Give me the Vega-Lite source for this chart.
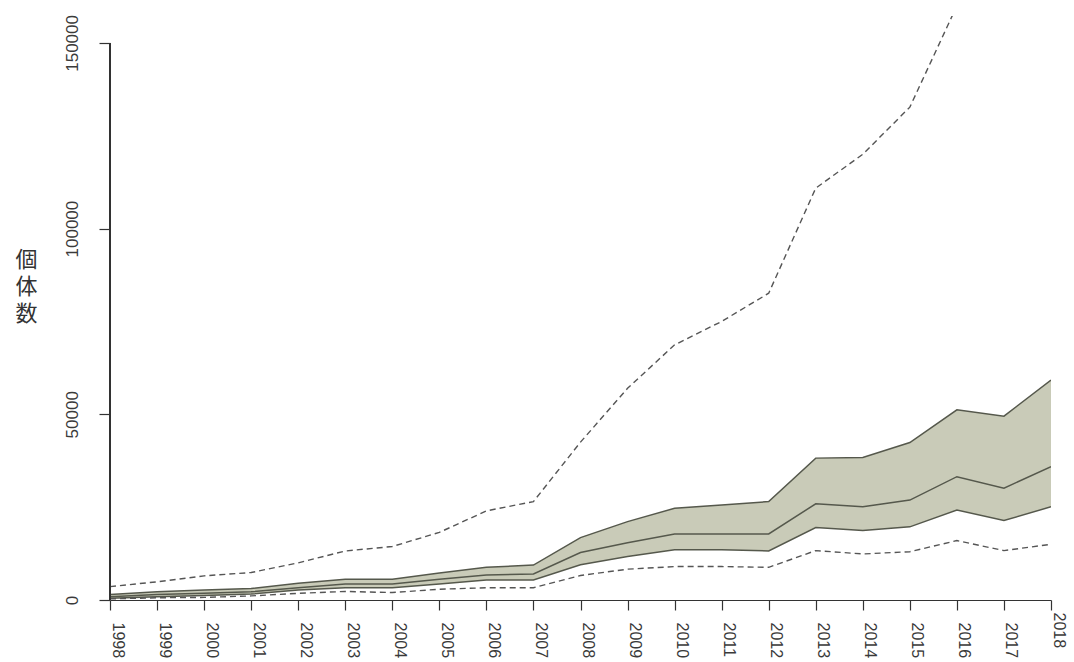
{
  "$schema": "https://vega.github.io/schema/vega-lite/v6.json",
  "width": 941,
  "height": 584,
  "autosize": {"type": "none"},
  "padding": {"left": 110, "top": 16, "right": 23, "bottom": 62},
  "background": "white",
  "config": {
    "view": {"stroke": null},
    "font": "Liberation Sans",
    "axis": {"grid": false, "labelFont": "Liberation Sans", "labelColor": "#3a3a3a", "tickColor": "#333333", "domainColor": "#333333", "tickWidth": 1.2, "domainWidth": 1.2}
  },
  "data": {
    "values": [
      {"year": 1998, "dlo": 300, "lo": 500, "med": 900, "hi": 1500, "dhi": 3600},
      {"year": 1999, "dlo": 600, "lo": 900, "med": 1500, "hi": 2200, "dhi": 4900},
      {"year": 2000, "dlo": 700, "lo": 1200, "med": 1800, "hi": 2700, "dhi": 6500},
      {"year": 2001, "dlo": 1100, "lo": 1600, "med": 2200, "hi": 3100, "dhi": 7400},
      {"year": 2002, "dlo": 1800, "lo": 2700, "med": 3300, "hi": 4500, "dhi": 10000},
      {"year": 2003, "dlo": 2300, "lo": 3300, "med": 4300, "hi": 5600, "dhi": 13200},
      {"year": 2004, "dlo": 2000, "lo": 3300, "med": 4300, "hi": 5600, "dhi": 14400},
      {"year": 2005, "dlo": 2900, "lo": 4300, "med": 5600, "hi": 7300, "dhi": 18200},
      {"year": 2006, "dlo": 3300, "lo": 5400, "med": 6700, "hi": 8800, "dhi": 24000},
      {"year": 2007, "dlo": 3300, "lo": 5400, "med": 7000, "hi": 9400, "dhi": 26500},
      {"year": 2008, "dlo": 6600, "lo": 9500, "med": 12800, "hi": 16800, "dhi": 42500},
      {"year": 2009, "dlo": 8300, "lo": 11700, "med": 15400, "hi": 21100, "dhi": 57000},
      {"year": 2010, "dlo": 9000, "lo": 13500, "med": 17800, "hi": 24700, "dhi": 68700},
      {"year": 2011, "dlo": 9000, "lo": 13500, "med": 17800, "hi": 25600, "dhi": 75000},
      {"year": 2012, "dlo": 8800, "lo": 13200, "med": 17800, "hi": 26500, "dhi": 82600},
      {"year": 2013, "dlo": 13300, "lo": 19500, "med": 25900, "hi": 38200, "dhi": 110900},
      {"year": 2014, "dlo": 12400, "lo": 18700, "med": 25100, "hi": 38400, "dhi": 120000},
      {"year": 2015, "dlo": 13000, "lo": 19700, "med": 26900, "hi": 42400, "dhi": 132700},
      {"year": 2016, "dlo": 16000, "lo": 24200, "med": 33200, "hi": 51200, "dhi": 160000},
      {"year": 2017, "dlo": 13300, "lo": 21400, "med": 30100, "hi": 49500, "dhi": 175000},
      {"year": 2018, "dlo": 15000, "lo": 25100, "med": 35900, "hi": 59200, "dhi": 195000}
    ]
  },
  "encoding": {
    "x": {
      "field": "year",
      "type": "quantitative",
      "scale": {"domain": [1998, 2018], "nice": false, "zero": false},
      "axis": {
        "title": null,
        "values": [1998, 1999, 2000, 2001, 2002, 2003, 2004, 2005, 2006, 2007, 2008, 2009, 2010, 2011, 2012, 2013, 2014, 2015, 2016, 2017, 2018],
        "format": "d",
        "labelAngle": 90,
        "labelAlign": "left",
        "labelBaseline": "middle",
        "labelFontSize": 16,
        "labelPadding": {"condition": {"test": "datum.value == 2018", "value": 2}, "value": 12},
        "labelOffset": 7,
        "labelFlush": false,
        "labelOverlap": false,
        "tickSize": 10
      }
    }
  },
  "layer": [
    {
      "mark": {"type": "area", "color": "#c9cbb8", "opacity": 1, "clip": true},
      "encoding": {
        "y": {
          "field": "lo",
          "type": "quantitative",
          "scale": {"domain": [0, 157240], "nice": false},
          "axis": {
            "title": ["個", "体", "数"],
            "titleFont": "Noto Sans CJK JP",
            "titleFontSize": 22,
            "titleFontWeight": "normal",
            "titleColor": "#333333",
            "titleAngle": 0,
            "titleAlign": "center",
            "titleBaseline": "middle",
            "titleLineHeight": 27,
            "titleX": -84,
            "titleY": 243,
            "values": [0, 50000, 100000, 150000],
            "format": "d",
            "domain": false,
            "tickSize": 11,
            "labelAngle": -90,
            "labelAlign": "center",
            "labelBaseline": "alphabetic",
            "labelPadding": 22,
            "labelFontSize": 17
          }
        },
        "y2": {"field": "hi"}
      }
    },
    {
      "transform": [{"fold": ["lo", "med", "hi"], "as": ["series", "value"]}],
      "mark": {"type": "line", "color": "#55584c", "strokeWidth": 1.5, "clip": true},
      "encoding": {
        "y": {
          "field": "value",
          "type": "quantitative",
          "axis": {
            "title": ["個", "体", "数"],
            "titleFont": "Noto Sans CJK JP",
            "titleFontSize": 22,
            "titleFontWeight": "normal",
            "titleColor": "#333333",
            "titleAngle": 0,
            "titleAlign": "center",
            "titleBaseline": "middle",
            "titleLineHeight": 27,
            "titleX": -84,
            "titleY": 243,
            "values": [0, 50000, 100000, 150000],
            "format": "d",
            "domain": false,
            "tickSize": 11,
            "labelAngle": -90,
            "labelAlign": "center",
            "labelBaseline": "alphabetic",
            "labelPadding": 22,
            "labelFontSize": 17
          }
        },
        "detail": {"field": "series"}
      }
    },
    {
      "transform": [{"fold": ["dlo", "dhi"], "as": ["series", "value"]}],
      "mark": {"type": "line", "color": "#555555", "strokeWidth": 1.4, "strokeDash": [6, 4], "clip": true},
      "encoding": {
        "y": {
          "field": "value",
          "type": "quantitative",
          "axis": {
            "title": ["個", "体", "数"],
            "titleFont": "Noto Sans CJK JP",
            "titleFontSize": 22,
            "titleFontWeight": "normal",
            "titleColor": "#333333",
            "titleAngle": 0,
            "titleAlign": "center",
            "titleBaseline": "middle",
            "titleLineHeight": 27,
            "titleX": -84,
            "titleY": 243,
            "values": [0, 50000, 100000, 150000],
            "format": "d",
            "domain": false,
            "tickSize": 11,
            "labelAngle": -90,
            "labelAlign": "center",
            "labelBaseline": "alphabetic",
            "labelPadding": 22,
            "labelFontSize": 17
          }
        },
        "detail": {"field": "series"}
      }
    },
    {
      "mark": {"type": "rule", "color": "#333333", "strokeWidth": 1.2},
      "encoding": {
        "x": {"datum": 1998, "type": "quantitative"},
        "y": {"datum": 0, "type": "quantitative"},
        "y2": {"datum": 150000}
      }
    }
  ]
}
